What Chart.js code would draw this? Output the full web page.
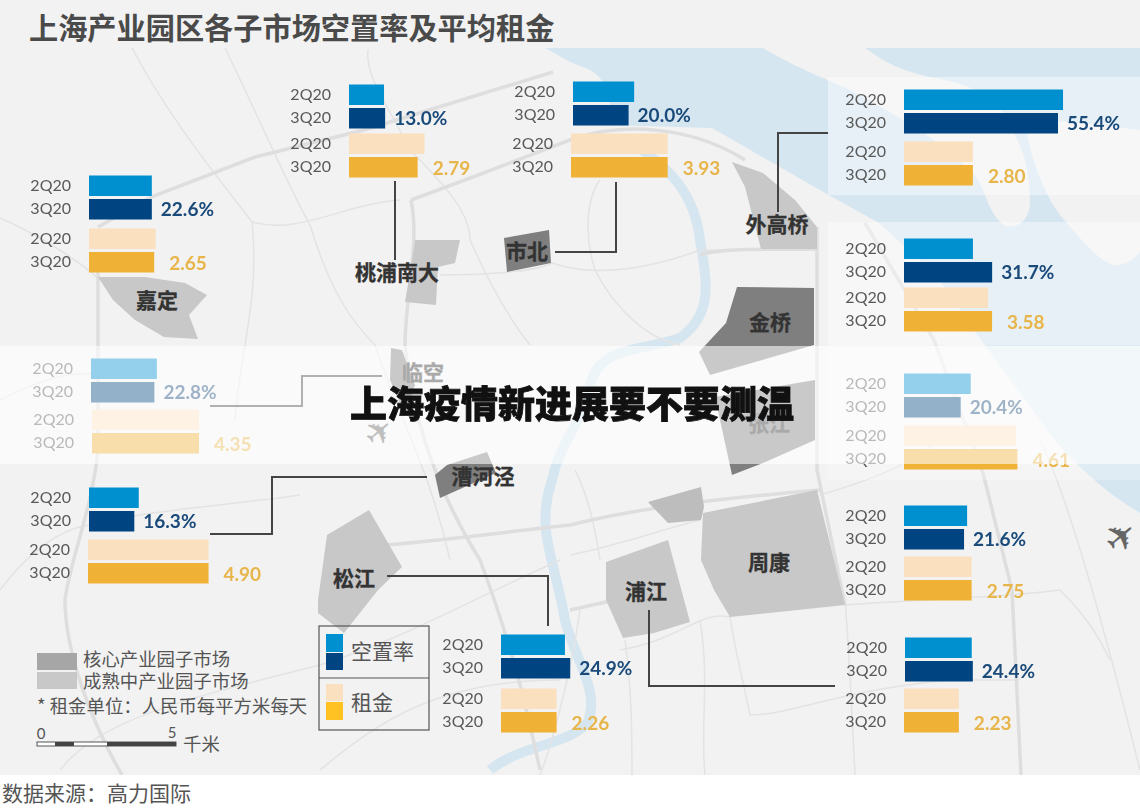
<!DOCTYPE html>
<html><head><meta charset="utf-8">
<style>
html,body{margin:0;padding:0;background:#fff;width:1140px;height:810px;overflow:hidden}
#stage{position:relative;width:1140px;height:810px}
#stage svg{position:absolute;left:0;top:0}
#stage canvas{position:absolute}
text{font-family:"Noto Sans CJK SC"}
</style>
<script src="https://cdn.jsdelivr.net/npm/chart.js@4"></script>
</head><body>
<div id="stage">
<svg id="map" width="1140" height="810" viewBox="0 0 1140 810" style="z-index:0">
  <rect x="0" y="0" width="1140" height="775" fill="#f2f2f2"/>
  <!-- water -->
  <path d="M545,48 L1140,48 L1140,513 C1100,490 1060,450 1042,423 L981,340 L934,273 L879,223 L825,193 L745,147 L712,128 L610,125 C612,100 608,80 590,70 L570,62 Z" fill="#d6e6f1"/>
  <path d="M763,48 L865,48 C885,62 900,72 945,80 C980,88 1000,100 1012,130 C1030,160 1030,190 1030,205 C1028,225 1010,232 1000,222 C985,205 985,185 970,170 C950,150 930,135 860,95 C830,80 800,70 763,48 Z" fill="#f2f2f2"/>
  <path d="M1025,120 C1030,160 1045,195 1060,215 C1085,245 1105,268 1120,265 C1130,262 1140,255 1140,250 L1140,130 C1100,125 1060,120 1025,120 Z" fill="#f2f2f2"/>
  <path d="M625,140 C670,165 695,195 700,240 C708,285 712,315 680,338 C640,352 600,345 590,385 C585,420 560,440 552,480 C535,530 555,560 565,620 C575,660 600,690 588,722 C570,745 520,745 490,770" fill="none" stroke="#d6e6f1" stroke-width="10"/>
  <!-- thin roads -->
  <g fill="none" stroke="#e3e3e3" stroke-width="1.5">
    <path d="M132,48 C170,120 220,180 252,222 C260,300 240,350 235,420"/>
    <path d="M225,48 C260,120 290,190 310,225 C330,290 350,320 375,345 C400,420 430,470 450,560"/>
    <path d="M368,50 C365,75 385,100 410,150 C450,190 470,215 470,240 C490,285 510,320 530,345"/>
    <path d="M0,218 C50,240 90,270 100,280"/>
    <path d="M252,222 C300,235 340,205 400,200"/>
    <path d="M440,275 C500,275 540,270 552,263 C600,280 660,265 700,250 L760,250"/>
    <path d="M600,180 C585,200 585,240 595,270 C615,310 650,340 680,345"/>
    <path d="M0,400 C40,380 70,370 100,375"/>
    <path d="M0,590 C30,550 60,530 88,525 C150,510 230,505 300,495"/>
    <path d="M60,770 C100,720 180,700 320,665 C400,640 450,610 560,560"/>
    <path d="M320,770 C380,720 440,680 560,680"/>
    <path d="M570,555 C620,545 660,530 700,520"/>
    <path d="M620,650 C680,640 700,610 730,617 C735,650 745,690 750,715 C790,715 840,690 950,680 L1020,680"/>
    <path d="M845,605 C900,600 1000,598 1060,590 C1090,620 1100,640 1110,660"/>
    <path d="M845,600 C850,660 852,720 855,775"/>
    <path d="M625,640 C632,690 632,740 632,775"/>
    <path d="M700,620 C710,680 700,730 705,775"/>
    <path d="M1040,440 C1070,500 1110,650 1140,770"/>
    <path d="M820,495 C870,480 900,470 940,440"/>
    <path d="M575,470 C590,500 595,530 600,560"/>
    <path d="M580,610 C570,680 550,750 540,775"/>
  </g>
  <!-- thick roads -->
  <g fill="none" stroke="#dedede" stroke-width="3.5">
    <path d="M98,227 L151,197 L255,157 L364,130 L553,72"/>
    <path d="M98,270 L98,450 C92,510 70,560 65,600 C65,650 90,720 122,775"/>
    <path d="M411,200 C420,240 405,300 405,345 C410,400 430,480 480,560 C510,640 525,700 540,770"/>
    <path d="M411,200 L473,177 L570,140 C620,122 690,125 745,160"/>
    <path d="M817,227 L817,470 L845,605"/>
    <path d="M817,249 C780,250 720,247 700,255"/>
    <path d="M865,223 L934,340 L983,473 L1012,590 L1021,775"/>
    <path d="M385,545 C450,540 520,530 570,525 C630,510 700,500 820,490"/>
    <path d="M570,610 L660,590"/>
  </g>
  <!-- market districts -->
  <g fill="#c8c8c8">
    <path d="M98,277 L145,277 L185,283 L207,295 L189,315 L198,339 L164,337 L135,320 L113,300 Z"/>
    <path d="M415,240 L460,240 L455,263 L438,267 L436,305 L405,302 L411,267 Z"/>
    <path d="M732,162 L763,173 L795,200 L817,227 L817,249 L761,249 L745,187 Z"/>
    <path d="M369,510 L402,567 L378,590 L344,633 L318,613 L318,600 L327,535 Z"/>
    <path d="M703,513 L817,490 L825,523 L845,605 L730,617 L714,590 L701,560 Z"/>
    <path d="M606,562 L668,540 L690,622 L654,633 L623,638 L606,600 Z"/>
    <path d="M648,502 L701,487 L704,507 L701,520 L668,523 Z" fill="#bdbdbd"/>
  </g>
  <g fill="#7f7f7f">
    <path d="M504,238 L549,230 L551,263 L507,272 Z"/>
    <path d="M737,287 L814,288 L814,345 L710,375 L699,352 L726,323 Z"/>
    <path d="M391,348 L402,350 L415,385 L405,415 L390,380 Z"/>
    <path d="M435,475 L447,465 L487,452 L496,473 L440,498 Z"/>
    <path d="M715,397 L815,380 L815,440 L763,463 L732,475 Z"/>
  </g>
  <!-- frosted panels behind the right column -->
  <rect x="828" y="77" width="312" height="118" fill="#fff" fill-opacity=".4"/>
  <rect x="828" y="222" width="312" height="123" fill="#fff" fill-opacity=".4"/>
  <rect x="828" y="345" width="312" height="135" fill="#fff" fill-opacity=".25"/>
  <!-- leader lines -->
  <g fill="none" stroke="#444" stroke-width="2">
    <path d="M395,181 L395,260"/>
    <path d="M555,252 L616,252 L616,182"/>
    <path d="M778,212 L778,133 L828,133"/>
    <path d="M210,406 L302,406 L302,376 L382,376"/>
    <path d="M210,534 L272,534 L272,477 L427,477"/>
    <path d="M387,576 L548,576 L548,626"/>
    <path d="M649,610 L649,686 L835,686"/>
  </g>
  <!-- district names -->
  <g font-size="21" font-weight="700" fill="#333" stroke="#333" stroke-width=".3" text-anchor="middle" dominant-baseline="central">
    <text x="157" y="299">嘉定</text>
    <text x="397" y="271">桃浦南大</text>
    <text x="527" y="250">市北</text>
    <text x="777" y="223">外高桥</text>
    <text x="770" y="321">金桥</text>
    <text x="423" y="371">临空</text>
    <text x="769" y="422">张江</text>
    <text x="483" y="475">漕河泾</text>
    <text x="354" y="577">松江</text>
    <text x="769" y="561">周康</text>
    <text x="646" y="590">浦江</text>
  </g>
  <!-- planes -->
  <text x="1121" y="537" font-size="38" fill="#666" text-anchor="middle" dominant-baseline="central" style="font-family:'DejaVu Sans'" transform="rotate(-40 1121 537)">✈</text>
  <text x="379" y="432" font-size="34" fill="#666" text-anchor="middle" dominant-baseline="central" style="font-family:'DejaVu Sans'" transform="rotate(-40 379 432)">✈</text>
  <!-- title -->
  <text x="29" y="26" font-size="29.2" font-weight="700" fill="#4a4a4a" dominant-baseline="central">上海产业园区各子市场空置率及平均租金</text>
  <!-- map legend -->
  <rect x="37" y="653" width="40" height="17" fill="#a6a6a6"/>
  <rect x="37" y="672" width="40" height="17" fill="#c8c8c8"/>
  <g font-size="18.4" fill="#555" dominant-baseline="central">
    <text x="83" y="658">核心产业园子市场</text>
    <text x="83" y="680">成熟中产业园子市场</text>
    <text x="37" y="705">* 租金单位：人民币每平方米每天</text>
    <text x="183" y="743">千米</text>
  </g>
  <g font-size="15" fill="#555" text-anchor="middle">
    <text x="41" y="739" style="font-family:Lato">0</text>
    <text x="172" y="738" style="font-family:Lato">5</text>
  </g>
  <rect x="37" y="742" width="139" height="4" fill="#fff" stroke="#555"/>
  <rect x="55" y="742" width="19" height="4" fill="#444"/>
  <rect x="107" y="742" width="69" height="4" fill="#444"/>
  <!-- series key -->
  <rect x="319" y="626" width="110" height="104" fill="none" stroke="#555" stroke-width="1.2"/>
  <path d="M319,678 L429,678" stroke="#555" stroke-width="1.2"/>
  <rect x="326" y="634" width="17" height="18" fill="#0090d0"/>
  <rect x="326" y="653" width="17" height="17" fill="#004581"/>
  <rect x="326" y="684" width="17" height="17" fill="#fae0bf"/>
  <rect x="326" y="702" width="17" height="18" fill="#ffc222"/>
  <g font-size="21" fill="#555" dominant-baseline="central">
    <text x="351" y="650">空置率</text>
    <text x="351" y="701">租金</text>
  </g>
  <rect x="0" y="775" width="1140" height="35" fill="#fff"/>
  <text x="2" y="792" font-size="21" fill="#555" dominant-baseline="central">数据来源：高力国际</text>
</svg>
<svg id="haze" width="1140" height="810" viewBox="0 0 1140 810" style="z-index:5">
  <rect x="0" y="346" width="1140" height="118" fill="#fff" fill-opacity=".58"/>
  <text x="350" y="402" font-size="37" font-weight="900" fill="#111" stroke="#111" stroke-width=".8" dominant-baseline="central">上海疫情新进展要不要测温</text>
</svg>
</div>
<script>
// ---- data ----
const tickLabels = ['2Q20', '3Q20'];
const markets   = ['嘉定','桃浦南大','市北','外高桥','金桥','张江','临空','漕河泾','周康','松江','浦江'];
const vacancy2Q = [22.6, 12.6, 22.0, 57.2, 24.8, 24.0, 23.7, 17.9, 22.7, 23.0, 24.0];
const vacancy3Q = [22.6, 13.0, 20.0, 55.4, 31.7, 20.4, 22.8, 16.3, 21.6, 24.9, 24.4];
const rent2Q    = [2.71, 3.07, 3.93, 2.80, 3.42, 4.55, 4.35, 4.90, 2.75, 2.26, 2.23];
const rent3Q    = [2.65, 2.79, 3.93, 2.80, 3.58, 4.61, 4.35, 4.90, 2.75, 2.26, 2.23];

// ---- page layout: [vacancy bars left, vacancy bars top, rent bars left, rent bars top] ----
const panelLayout = [
  [ 89, 175,  89, 228], [349,  84, 349, 133], [573,  81, 571, 133], [904,  89, 904, 141],
  [904, 238, 904, 287], [904, 373, 904, 425], [ 91, 358,  92, 409], [ 89, 487,  88, 539],
  [904, 505, 904, 556], [501, 634, 501, 688], [905, 637, 904, 688]
];
const AXIS_W = 70, PLOT_W = 250, ROW_H = 23.5, ROWS_H = ROW_H * tickLabels.length;
const VAC_PX = 2.78, RENT_PX = 24.6;
const vacColors  = ['#0090d0', '#004581'];
const rentColors = ['#fae0bf', '#efb136'];

const valueLabel = {
  id: 'valueLabel',
  afterDatasetsDraw(chart, args, o) {
    const bar = chart.getDatasetMeta(0).data[1];
    const ctx = chart.ctx;
    ctx.save();
    ctx.font = 'bold 19px Lato';
    ctx.fillStyle = o.color;
    ctx.textBaseline = 'middle';
    ctx.fillText(o.format(chart.data.datasets[0].data[1]), bar.x + o.gap, bar.y + o.dy);
    ctx.restore();
  }
};

function addChart(left, top, values, colors, pxPerUnit, label) {
  const c = document.createElement('canvas');
  c.style.left = (left - AXIS_W) + 'px';
  c.style.top = (top - (ROW_H - 20.5) / 2) + 'px';
  c.style.zIndex = 2;
  c.width = AXIS_W + PLOT_W; c.height = ROWS_H;
  document.getElementById('stage').appendChild(c);
  new Chart(c, {
    type: 'bar',
    data: { labels: tickLabels, datasets: [{ data: values, backgroundColor: colors, barPercentage: 20.5 / ROW_H, categoryPercentage: 1 }] },
    plugins: [valueLabel],
    options: {
      indexAxis: 'y', responsive: false, animation: false, devicePixelRatio: 1,
      layout: { padding: 0 },
      plugins: { legend: { display: false }, tooltip: { enabled: false }, title: { display: false }, valueLabel: label },
      scales: {
        x: { display: false, min: 0, max: PLOT_W / pxPerUnit },
        y: {
          grid: { display: false, drawTicks: false }, border: { display: false },
          ticks: { color: '#595959', padding: 18, autoSkip: false, font: { family: 'Lato', size: 16 } },
          afterFit(s) { s.width = AXIS_W; s.paddingTop = 0; s.paddingBottom = 0; }
        }
      }
    }
  });
}

markets.forEach((m, i) => {
  const [vx, vy, rx, ry] = panelLayout[i];
  addChart(vx, vy, [vacancy2Q[i], vacancy3Q[i]], vacColors, VAC_PX,
    { color: '#1a4a7a', gap: 9, dy: 1, format: v => v.toFixed(1) + '%' });
  addChart(rx, ry, [rent2Q[i], rent3Q[i]], rentColors, RENT_PX,
    { color: '#e8b54a', gap: 15, dy: 2, format: v => v.toFixed(2) });
});
</script>
</body></html>
